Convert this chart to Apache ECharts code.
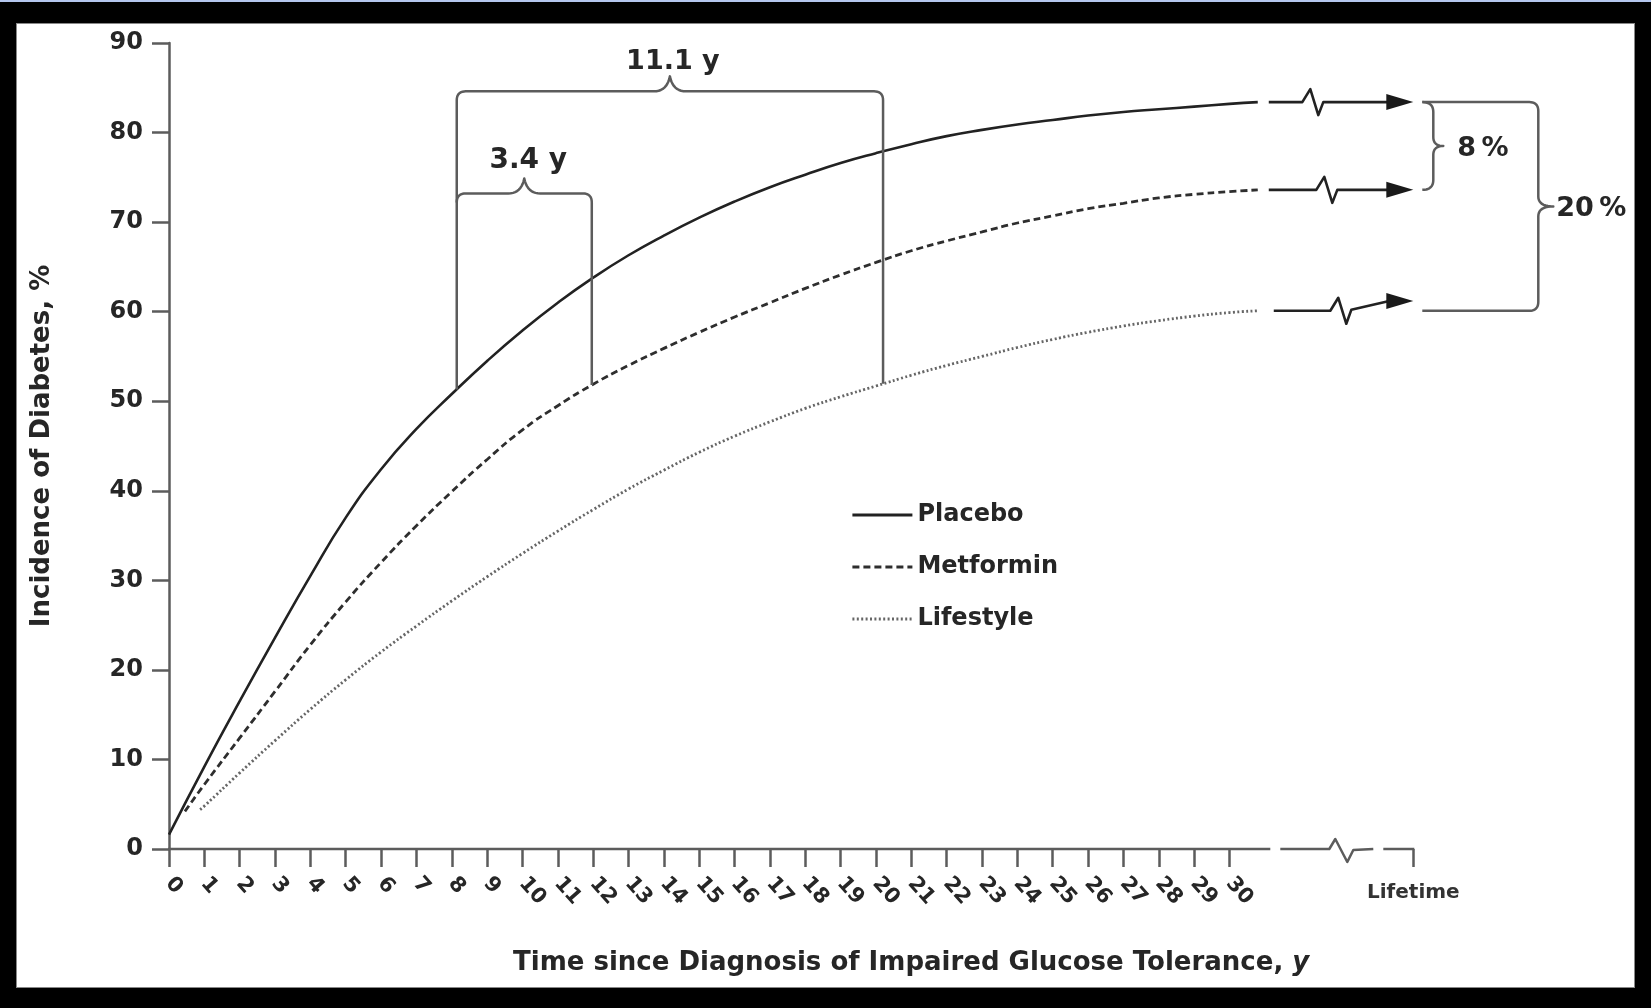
<!DOCTYPE html>
<html><head><meta charset="utf-8">
<script src="https://cdn.jsdelivr.net/npm/echarts@6/dist/echarts.min.js"></script>
<style>
html,body{margin:0;padding:0;background:#000;width:1651px;height:1008px;overflow:hidden;}
#strip{position:absolute;left:0;top:0;width:1651px;height:2px;background:#b4c6ee;}
#panel{position:absolute;left:17px;top:24px;width:1617px;height:963px;background:#fff;box-shadow:0 0 0 1px #888;}
#chart{position:absolute;left:0;top:0;width:1651px;height:1008px;}
</style></head><body>
<div id="strip"></div><div id="panel"></div><div id="chart"></div>
<script>
// ---------------- data ----------------
const xTickValues = [0,1,2,3,4,5,6,7,8,9,10,11,12,13,14,15,16,17,18,19,20,21,22,23,24,25,26,27,28,29,30];
const lifetimeYear = 35.2;
const lifetimeLabel = 'Lifetime';
const yTicks = [0, 90, 10]; // min, max, step

const placeboYears = [0,1,2,3,4,5,6,7,8,9,10,11,12,13,14,15,16,17,18,19,20,21,22,23,24,25,26,27,28,29,30,30.8];
const placeboValues = [1.6,9.2,16.5,23.6,30.5,37.0,42.4,46.9,50.8,54.5,57.9,61.0,63.8,66.3,68.5,70.5,72.3,73.9,75.3,76.6,77.7,78.7,79.6,80.3,80.9,81.4,81.9,82.3,82.6,82.9,83.2,83.4];

const metforminYears = [0.45,1,2,3,4,5,6,7,8,9,10,11,12,13,14,15,16,17,18,19,20,21,22,23,24,25,26,27,28,29,30,30.8];
const metforminValues = [4.2,7.2,12.4,17.6,22.8,27.6,32.0,36.1,39.9,43.5,46.8,49.5,51.9,54.0,55.9,57.7,59.4,61.0,62.6,64.1,65.5,66.8,67.9,68.9,69.9,70.7,71.5,72.1,72.7,73.1,73.4,73.6];

const lifestyleYears = [0.88,1,2,3,4,5,6,7,8,9,10,11,12,13,14,15,16,17,18,19,20,21,22,23,24,25,26,27,28,29,30,30.8];
const lifestyleValues = [4.4,4.8,8.5,12.1,15.6,18.9,22.0,24.9,27.7,30.4,33.0,35.5,37.9,40.2,42.3,44.3,46.1,47.7,49.2,50.5,51.7,52.9,54.0,55.0,56.0,56.9,57.7,58.4,59.0,59.5,59.9,60.1];

const seriesNames = ['Placebo','Metformin','Lifestyle'];
const bracketYears = [8.14, 11.96, 20.2];   // placebo reaches ~51 %, then metformin, then lifestyle
const bracketLevels = [73.2, 84.6];         // 3.4 y brace, 11.1 y brace
const bracketLabels = ['3.4 y', '11.1 y'];
const lifestyleArrowRise = 1.1;
const rightLabels = ['8\u2009%', '20\u2009%'];
const xTitle = 'Time since Diagnosis of Impaired Glucose Tolerance, {it|y}';
const yTitle = 'Incidence of Diabetes, %';

// ---------------- chart ----------------
const FONT = 'DejaVu Sans';
const INK = '#262626';
const AXIS = '#5c5c5c';
const pairs = (xs, ys) => xs.map((x, i) => [x, ys[i]]);
function valueAt(xs, ys, x) {
  for (let i = 0; i < xs.length - 1; i++) {
    if (x >= xs[i] && x <= xs[i + 1]) {
      const t = (x - xs[i]) / (xs[i + 1] - xs[i]);
      return ys[i] + t * (ys[i + 1] - ys[i]);
    }
  }
  return ys[ys.length - 1];
}

const chart = echarts.init(document.getElementById('chart'));
const tickLine = {color: AXIS, width: 2.5};
const option = {
  animation: false,
  grid: {left: 169, top: 43, right: 1651 - 1413.3, bottom: 159, containLabel: false, outerBoundsMode: 'none'},
  xAxis: [{
    type: 'value', min: 0, max: lifetimeYear, position: 'bottom',
    axisLine: {show: false}, splitLine: {show: false},
    axisTick: {show: true, customValues: xTickValues, length: 18, lineStyle: tickLine},
    axisLabel: {customValues: xTickValues, rotate: -48, margin: 31, fontFamily: FONT, fontWeight: 'bold', fontSize: 21, color: INK},
    name: xTitle, nameLocation: 'middle', nameGap: 101,
    nameTextStyle: {fontFamily: FONT, fontWeight: 'bold', fontSize: 26, color: INK, padding: [0, 0, 0, 240],
      rich: {it: {fontFamily: FONT, fontWeight: 'bold', fontStyle: 'italic', fontSize: 26, color: INK}}}
  }, {
    type: 'value', min: 0, max: lifetimeYear, position: 'bottom',
    axisLine: {show: false}, splitLine: {show: false},
    axisTick: {show: true, customValues: [lifetimeYear], length: 18, lineStyle: tickLine},
    axisLabel: {customValues: [lifetimeYear], formatter: () => lifetimeLabel, margin: 34, fontFamily: FONT, fontWeight: 'bold', fontSize: 20, color: '#333'}
  }],
  yAxis: {
    type: 'value', min: yTicks[0], max: yTicks[1], interval: yTicks[2],
    axisLine: {show: true, lineStyle: tickLine}, splitLine: {show: false},
    axisTick: {show: true, length: 17, lineStyle: tickLine},
    axisLabel: {margin: 26, fontFamily: FONT, fontWeight: 'bold', fontSize: 24, color: INK},
    name: yTitle, nameLocation: 'middle', nameRotate: 90, nameGap: 114,
    nameTextStyle: {fontFamily: FONT, fontWeight: 'bold', fontSize: 26, color: INK}
  },
  legend: {
    data: seriesNames, orient: 'vertical', left: 846, top: 495,
    itemWidth: 60, itemHeight: 14, itemGap: 22,
    itemStyle: {color: 'rgba(0,0,0,0)', borderWidth: 0, opacity: 0},
    lineStyle: {width: 2.8},
    textStyle: {fontFamily: FONT, fontWeight: 'bold', fontSize: 24, color: INK, lineHeight: 30}
  },
  series: [
    {name: seriesNames[0], type: 'line', xAxisIndex: 0, smooth: 0.5, symbol: 'none', data: pairs(placeboYears, placeboValues),
     lineStyle: {color: '#222', width: 2.6, type: 'solid'}, itemStyle: {color: '#222'}},
    {name: seriesNames[1], type: 'line', xAxisIndex: 0, smooth: 0.5, symbol: 'none', data: pairs(metforminYears, metforminValues),
     lineStyle: {color: '#2e2e2e', width: 2.8, type: [7, 4]}, itemStyle: {color: '#2e2e2e'}},
    {name: seriesNames[2], type: 'line', xAxisIndex: 0, smooth: 0.5, symbol: 'none', data: pairs(lifestyleYears, lifestyleValues),
     lineStyle: {color: '#666', width: 2.8, type: [2, 2.4]}, itemStyle: {color: '#666'}}
  ]
};
chart.setOption(option);

// ---------------- annotations (positions via the chart's scales) ----------------
const P = (x, y) => chart.convertToPixel({xAxisIndex: 0, yAxisIndex: 0}, [x, y]);
const stroke = {stroke: AXIS, lineWidth: 2.5, fill: null, lineJoin: 'round'};
const dark = {stroke: '#222', lineWidth: 2.6, fill: null, lineJoin: 'round'};
const g = [];
// path helper: commands [['M',x,y],['L',x,y],['Q',cx,cy,x,y]] -> sampled polyline
function pts(cmds) {
  const out = [];
  let cx = 0, cy = 0;
  cmds.forEach(c => {
    if (c[0] === 'M' || c[0] === 'L') { cx = c[1]; cy = c[2]; out.push([cx, cy]); }
    else if (c[0] === 'Q') {
      const [, qx, qy, ex, ey] = c;
      for (let k = 1; k <= 10; k++) {
        const t = k / 10, u = 1 - t;
        out.push([u * u * cx + 2 * u * t * qx + t * t * ex, u * u * cy + 2 * u * t * qy + t * t * ey]);
      }
      cx = ex; cy = ey;
    }
  });
  return out;
}
const lineEl = (cmds, st) => ({type: 'polyline', z: 10, shape: {points: pts(cmds)}, style: Object.assign({}, st)});
const textEl = (x, y, text, size, align) => ({type: 'text', x, y: y + 3, z: 11,
  style: {text, fill: INK, font: 'bold ' + size + 'px "' + FONT + '"',
    align: align || 'center', verticalAlign: 'middle', textAlign: align || 'center', textVerticalAlign: 'middle'}});

// brackets between curves
const [xL, yL] = P(bracketYears[0], valueAt(placeboYears, placeboValues, bracketYears[0]));
const [xM, yM] = P(bracketYears[1], valueAt(metforminYears, metforminValues, bracketYears[1]));
const [xR, yR] = P(bracketYears[2], valueAt(lifestyleYears, lifestyleValues, bracketYears[2]));
const ySmall = P(0, bracketLevels[0])[1];
const yBig = P(0, bracketLevels[1])[1];
const r = 9, tip = 15, half = 16;
const hBrace = (x1, x2, y) => { const c = (x1 + x2) / 2;
  return [['L', c - half, y], ['Q', c - 3, y, c, y - tip], ['Q', c + 3, y, c + half, y]]; };
g.push(lineEl([['M', xL, yL], ['L', xL, yBig + r], ['Q', xL, yBig, xL + r, yBig], ...hBrace(xL, xR, yBig),
  ['L', xR - r, yBig], ['Q', xR, yBig, xR, yBig + r], ['L', xR, yR]], stroke));
g.push(lineEl([['M', xL, ySmall + r], ['Q', xL, ySmall, xL + r, ySmall], ...hBrace(xL, xM, ySmall),
  ['L', xM - r, ySmall], ['Q', xM, ySmall, xM, ySmall + r], ['L', xM, yM]], stroke));
g.push(textEl((xL + xM) / 2 + 4, ySmall - tip - 21, bracketLabels[0], 28));
g.push(textEl((xL + xR) / 2 + 3, yBig - tip - 17, bracketLabels[1], 27));

// x-axis line with break toward lifetime
const [x0, y0] = P(0, 0);
const [xLife] = P(lifetimeYear, 0);
g.push(lineEl([['M', x0 - 1, y0], ['L', xLife - 143, y0]], stroke));
g.push(lineEl([['M', xLife - 133, y0], ['L', xLife - 84, y0], ['L', xLife - 78, y0 - 10], ['L', xLife - 66, y0 + 13],
  ['L', xLife - 60, y0 + 1], ['L', xLife - 40, y0]], stroke));
g.push(lineEl([['M', xLife - 30, y0], ['L', xLife + 1, y0]], stroke));

// arrows from curve ends to lifetime
const ends = [
  [placeboYears, placeboValues, 0],
  [metforminYears, metforminValues, 0],
  [lifestyleYears, lifestyleValues, lifestyleArrowRise]
];
const tipYs = [];
ends.forEach(([xs, ys, rise], i) => {
  const [ex, ey] = P(xs[xs.length - 1], ys[ys.length - 1]);
  const tipY = P(0, ys[ys.length - 1] + rise)[1];
  tipYs.push(tipY);
  const sx = ex + 11 + (i === 2 ? 5 : 0);
  const zc = xLife - 100 + i * 14;
  const after = (ey + tipY) / 2 + (i === 2 ? 4 : 0);
  g.push(lineEl([['M', sx, ey], ['L', zc - 11, ey], ['L', zc - 3, ey - 13], ['L', zc + 5, ey + 13],
    ['L', zc + 10, after], ['L', xLife - 24, tipY]], dark));
  g.push({type: 'polygon', z: 10, shape: {points: [[xLife, tipY], [xLife - 27, tipY - 8], [xLife - 27, tipY + 8]]}, style: {fill: '#1a1a1a'}});
});
const yLifeEnd = P(0, lifestyleValues[lifestyleValues.length - 1])[1];

// right braces 8 % and 20 %
const yA = tipYs[0], yB = tipYs[1];
const bx0 = xLife + 9, bs = xLife + 20, bt = xLife + 30;
const m8 = (yA + yB) / 2;
g.push(lineEl([['M', bx0, yA], ['Q', bs, yA, bs, yA + 10], ['L', bs, m8 - 9], ['Q', bs, m8, bt, m8],
  ['Q', bs, m8, bs, m8 + 9], ['L', bs, yB - 10], ['Q', bs, yB, bx0, yB]], stroke));
g.push(textEl(bt + 14, m8, rightLabels[0], 27, 'left'));
const vs = xLife + 125, vt = xLife + 140;
const m20 = (yA + yLifeEnd) / 2;
g.push(lineEl([['M', bx0, yA], ['L', vs - 9, yA], ['Q', vs, yA, vs, yA + 9], ['L', vs, m20 - 10], ['Q', vs, m20, vt, m20],
  ['Q', vs, m20, vs, m20 + 10], ['L', vs, yLifeEnd - 9], ['Q', vs, yLifeEnd, vs - 9, yLifeEnd], ['L', bx0, yLifeEnd]], stroke));
g.push(textEl(vt + 3, m20, rightLabels[1], 27, 'left'));

chart.setOption({graphic: g});
</script>
</body></html>
